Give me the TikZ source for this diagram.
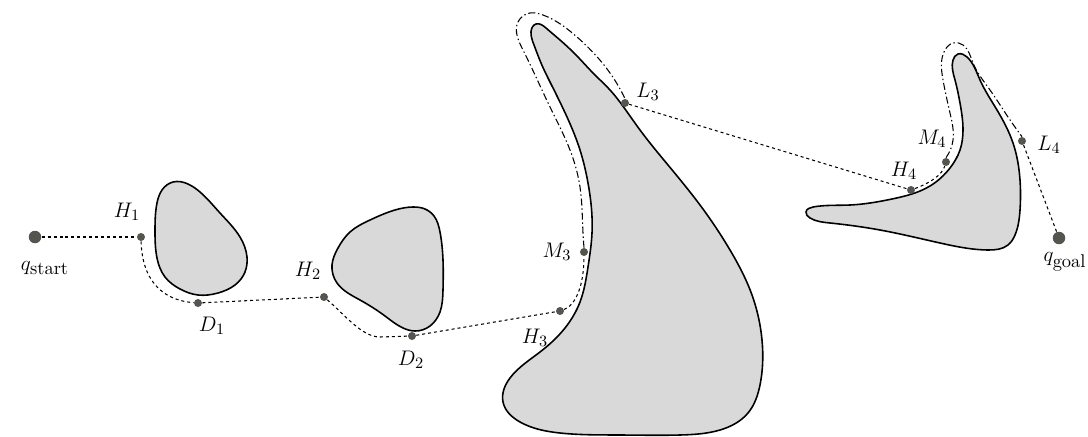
\documentclass[tikz,border=0pt]{standalone}
\usepackage{xcolor}
\usetikzlibrary{calc,positioning,hobby}
\definecolor{obstacleGray}{HTML}{D9D9D9}
\definecolor{pointGray}{HTML}{555550}
\tikzset{
  obstacle/.style={draw=black, line width=0.9pt, fill=obstacleGray, use Hobby shortcut, closed=true},
  pathLine/.style={draw=black, line width=0.6pt, dash pattern=on 1.7pt off 1.7pt},
  edgeLine/.style={draw=black, line width=0.6pt, dash pattern=on 4pt off 1.6pt on 0.8pt off 1.6pt, use Hobby shortcut},
  wayPoint/.style={circle, fill=pointGray, draw=none, inner sep=0pt, minimum size=1.6mm},
  endPoint/.style={circle, fill=pointGray, draw=none, inner sep=0pt, minimum size=2.5mm},
  ptLabel/.style={font=\fontsize{12.5}{15}\selectfont, inner sep=1pt}
}
\newcommand{\subText}[1]{\mbox{\fontsize{10.5}{12}\selectfont #1}}

\begin{document}
\begin{tikzpicture}[x=0.02cm,y=-0.02cm]
\useasboundingbox (0,0) rectangle (1088,436);

% --------------------------------------------------------------------------
% Obstacles
% --------------------------------------------------------------------------
\draw[obstacle] (157,203) .. (162,190) .. (173,182) .. (188,184) .. (200,192)
  .. (220,213) .. (240,237) .. (247,257) .. (245,272) .. (235,285)
  .. (218,293) .. (198,295) .. (180,289) .. (165,277) .. (157,258)
  .. (155,230);
\draw[obstacle] (332,265) .. (338,248) .. (350,232) .. (370,220) .. (395,210)
  .. (413,207) .. (425,209) .. (434,216) .. (440,232) .. (443,260)
  .. (443,290) .. (440,312) .. (430,326) .. (415,331) .. (403,328)
  .. (385,316) .. (360,300) .. (337,283);
\draw[obstacle] (531,32) .. (536,24) .. (546,28) .. (560,40) .. (577,56)
  .. (593,73) .. (610,90) .. (625,109) .. (640,130) .. (668,165)
  .. (700,205) .. (730,250) .. (752,295) .. (762,340) .. (760,385)
  .. (748,413) .. (720,430) .. (680,435) .. (620,435) .. (560,433)
  .. (520,422) .. (503,402) .. (510,378) .. (540,352) .. (565,328)
  .. (580,302) .. (588,267) .. (592,233) .. (588,183) .. (580,150)
  .. (567,117) .. (552,86) .. (541,63) .. (534,45);
\draw[obstacle] (953,60) .. (958,54) .. (967,57) .. (980,80) .. (997,110)
  .. (1013,143) .. (1020,180) .. (1020,210) .. (1015,235) .. (1008,245)
  .. (988,250) .. (940,243) .. (880,230) .. (830,223) .. (810,218)
  .. (806,212) .. (813,207) .. (850,205) .. (892,199) .. (930,186)
  .. (950,168) .. (960,150) .. (963,130) .. (960,103) .. (955,80);

% --------------------------------------------------------------------------
% Points
% --------------------------------------------------------------------------
\node[endPoint] (qStart) at (35,237) {};
\node[wayPoint] (H1) at (141,237) {};
\node[wayPoint] (D1) at (198,303) {};
\node[wayPoint] (H2) at (324,297) {};
\node[wayPoint] (D2) at (412,336) {};
\node[wayPoint] (H3) at (560,311) {};
\node[wayPoint] (M3) at (584,252) {};
\node[wayPoint] (L3) at (625,103) {};
\node[wayPoint] (H4) at (911,190) {};
\node[wayPoint] (M4) at (946,162) {};
\node[wayPoint] (L4) at (1022,141) {};
\node[endPoint] (qGoal) at (1059,238) {};

\node[ptLabel] at (45,268) {$q_{\subText{start}}$};
\node[ptLabel] at (127,212) {$H_1$};
\node[ptLabel] at (212,326) {$D_1$};
\node[ptLabel] at (308,271) {$H_2$};
\node[ptLabel] at (411,360) {$D_2$};
\node[ptLabel] at (535,338) {$H_3$};
\node[ptLabel] at (557,252) {$M_3$};
\node[ptLabel] at (648,92) {$L_3$};
\node[ptLabel] at (904,171) {$H_4$};
\node[ptLabel] at (932,139) {$M_4$};
\node[ptLabel] at (1049,145) {$L_4$};
\node[ptLabel] at (1065,262) {$q_{\subText{goal}}$};

% --------------------------------------------------------------------------
% Path
% --------------------------------------------------------------------------
\draw[pathLine] (qStart) -- (H1);
\draw[pathLine] (H1) .. controls (142,278) and (160,300) .. (D1);
\draw[pathLine] (D1) -- (H2);
\draw[pathLine] (H2) .. controls (345,315) and (362,337) .. (380,337) -- (D2);
\draw[pathLine] (D2) -- (H3);
\draw[pathLine] (H3) .. controls (576,305) and (584,285) .. (M3);
\draw[edgeLine] (M3.north) .. (583,233) .. (580,187) .. (570,150) .. (550,107)
  .. (523,50) .. (518,22) .. (530,13) .. (543,15) .. (577,37) .. (610,73)
  .. (L3.north);
\draw[pathLine] (L3) -- (H4);
\draw[pathLine] (H4) .. controls (930,183) and (942,175) .. (M4);
\draw[edgeLine] (M4.north) .. (953,140) .. (950,113) .. (943,80) .. (945,50)
  .. (953,43) .. (963,45) .. (973,63) .. (990,90) .. (1008,117)
  .. (L4.north);
\draw[pathLine] (L4) -- (qGoal);

\end{tikzpicture}
\end{document}
